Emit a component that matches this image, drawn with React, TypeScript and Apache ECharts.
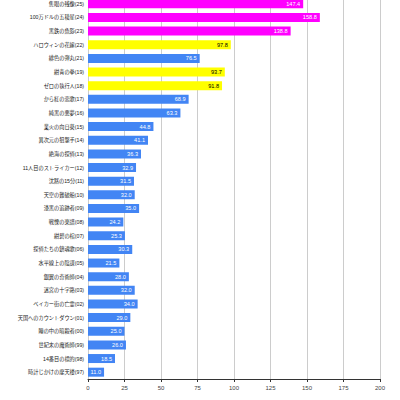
import React, { useEffect, useRef } from "react";
import * as echarts from "echarts";

const categories = [
  "隻眼の残像(25)", "100万ドルの五稜星(24)", "黒鉄の魚影(23)", "ハロウィンの花嫁(22)",
  "緋色の弾丸(21)", "紺青の拳(19)", "ゼロの執行人(18)", "から紅の恋歌(17)",
  "純黒の悪夢(16)", "業火の向日葵(15)", "異次元の狙撃手(14)", "絶海の探偵(13)",
  "11人目のストライカー(12)", "沈黙の15分(11)", "天空の難破船(10)", "漆黒の追跡者(09)",
  "戦慄の楽譜(08)", "紺碧の棺(07)", "探偵たちの鎮魂歌(06)", "水平線上の陰謀(05)",
  "銀翼の奇術師(04)", "迷宮の十字路(03)", "ベイカー街の亡霊(02)", "天国へのカウントダウン(01)",
  "瞳の中の暗殺者(00)", "世紀末の魔術師(99)", "14番目の標的(98)", "時計じかけの摩天楼(97)",
];

const values = [
  147.4, 158.8, 138.8, 97.8, 76.5, 93.7, 91.8, 68.9, 63.3, 44.8, 41.1, 36.3, 32.9, 31.5,
  32.0, 35.0, 24.2, 25.3, 30.3, 21.5, 28.0, 32.0, 34.0, 29.0, 25.0, 26.0, 18.5, 11.0,
];

const groups = [
  "m", "m", "m", "y", "b", "y", "y", "b", "b", "b", "b", "b", "b", "b",
  "b", "b", "b", "b", "b", "b", "b", "b", "b", "b", "b", "b", "b", "b",
];

const xTicks = [0, 25, 50, 75, 100, 125, 150, 175, 200];

const barColor: Record<string, string> = { m: "#ff00ff", y: "#ffff00", b: "#4285f4" };
const textColor: Record<string, string> = { m: "#ffffff", y: "#000000", b: "#ffffff" };

const FONT = "'Liberation Sans', Arial, 'Noto Sans CJK JP', sans-serif";

export default function App() {
  const ref = useRef<HTMLDivElement>(null);
  useEffect(() => {
    if (!ref.current) return;
    const chart = echarts.init(ref.current, null, { renderer: "svg" });
    chart.setOption({
      animation: false,
      grid: { left: 88, right: 20, top: 0, bottom: 21, containLabel: false },
      xAxis: {
        type: "value",
        min: xTicks[0],
        max: xTicks[xTicks.length - 1],
        interval: 25,
        axisLine: { show: true, lineStyle: { color: "#333", width: 1 } },
        axisTick: { show: true, length: 3, lineStyle: { color: "#333" } },
        axisLabel: { color: "#444", fontSize: 6, fontFamily: FONT, margin: 6 },
        splitLine: { show: true, lineStyle: { color: "#cccccc", width: 1 } },
      },
      yAxis: {
        type: "category",
        data: categories,
        inverse: true,
        axisLine: { show: true, lineStyle: { color: "#cccccc" } },
        axisTick: { show: false },
        axisLabel: { color: "#222", fontSize: 5.2, fontFamily: FONT, margin: 4 },
      },
      series: [
        {
          type: "bar",
          barCategoryGap: "34%",
          data: values.map((v, i) => ({
            value: v,
            itemStyle: { color: barColor[groups[i]] },
            label: { color: textColor[groups[i]] },
          })),
          label: {
            show: true,
            position: "insideRight",
            distance: 3,
            fontSize: 5.6,
            fontFamily: FONT,
            formatter: (p: any) => Number(p.value).toFixed(1),
          },
        },
      ],
    });
    return () => chart.dispose();
  }, []);
  return (
    <div style={{ position: "absolute", left: 0, top: 0, width: 400, height: 400, overflow: "hidden" }}>
      <div ref={ref} style={{ width: 400, height: 403, position: "absolute", left: 0, top: -3 }} />
    </div>
  );
}
